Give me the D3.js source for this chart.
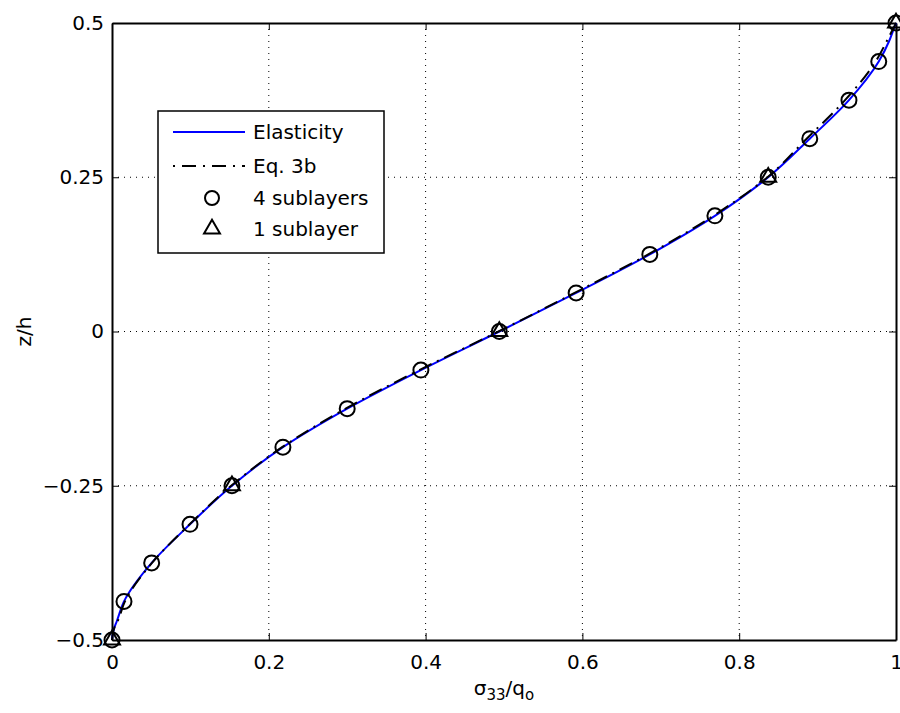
<!DOCTYPE html>
<html><head><meta charset="utf-8">
<script src="https://cdn.jsdelivr.net/npm/d3@7"></script>
<style>body{margin:0;background:#fff;} svg{display:block;}</style>
</head><body>
<svg id="chart" width="900" height="713"></svg>
<script>
// Data (x = sigma33/qo, z = z/h)
const elasticZ = [-0.5,-0.49,-0.48,-0.47,-0.4375,-0.375,-0.3125,-0.25,-0.1875,-0.125,-0.0625,0,0.0625,0.125,0.1875,0.25,0.3125,0.375,0.4375,0.47,0.49,0.5];
const elasticX = [0,0.001,0.003,0.006,0.0153,0.0506,0.0995,0.153,0.218,0.300,0.394,0.494,0.592,0.686,0.769,0.837,0.890,0.940,0.978,0.991,0.997,1];
const eq3bZ = [-0.5,-0.49,-0.48,-0.47,-0.4375,-0.375,-0.3125,-0.25,-0.1875,-0.125,-0.0625,0,0.0625,0.125,0.1875,0.25,0.3125,0.375,0.4375,0.47,0.49,0.5];
const eq3bX = [0,0.001,0.003,0.007,0.0165,0.0510,0.0990,0.152,0.217,0.298,0.392,0.493,0.590,0.684,0.767,0.836,0.886,0.935,0.974,0.988,0.996,1];
const circZ = [-0.5,-0.4375,-0.375,-0.3125,-0.25,-0.1875,-0.125,-0.0625,0,0.0625,0.125,0.1875,0.25,0.3125,0.375,0.4375,0.5];
const circX = [0,0.0153,0.0506,0.0995,0.153,0.218,0.300,0.394,0.494,0.592,0.686,0.769,0.837,0.890,0.940,0.978,1];
const triZ = [-0.5,-0.25,0,0.25,0.5];
const triX = [0,0.153,0.494,0.837,1];
const xTicks = [0,0.2,0.4,0.6,0.8,1];
const yTicks = [-0.5,-0.25,0,0.25,0.5];
const xTickLabels = ["0","0.2","0.4","0.6","0.8","1"];
const yTickLabels = ["\u22120.5","\u22120.25","0","0.25","0.5"];
const legendLabels = ["Elasticity","Eq. 3b","4 sublayers","1 sublayer"];

const svg = d3.select("#chart");
const L = 112, R = 896, T = 23, B = 640;
const x = d3.scaleLinear().domain([0,1]).range([L,R]);
const y = d3.scaleLinear().domain([-0.5,0.5]).range([B,T]);
const font = "'DejaVu Sans', Arial, sans-serif";

// grid
const grid = svg.append("g").attr("stroke","#000").attr("stroke-width",1).attr("stroke-dasharray","1,5");
xTicks.slice(1,-1).forEach(v=>grid.append("line").attr("x1",x(v)).attr("x2",x(v)).attr("y1",T).attr("y2",B));
yTicks.slice(1,-1).forEach(v=>grid.append("line").attr("y1",y(v)).attr("y2",y(v)).attr("x1",L).attr("x2",R));

// axes with inward ticks
const tl = 7;
const axB = svg.append("g").attr("transform",`translate(0,${B})`)
  .call(d3.axisBottom(x).tickValues(xTicks).tickSizeInner(-tl).tickSizeOuter(0).tickPadding(15).tickFormat((d,i)=>xTickLabels[i]));
const axT = svg.append("g").attr("transform",`translate(0,${T})`)
  .call(d3.axisTop(x).tickValues(xTicks).tickSizeInner(-tl).tickSizeOuter(0).tickFormat(""));
const axL = svg.append("g").attr("transform",`translate(${L},0)`)
  .call(d3.axisLeft(y).tickValues(yTicks).tickSizeInner(-tl).tickSizeOuter(0).tickPadding(8).tickFormat((d,i)=>yTickLabels[i]));
const axR = svg.append("g").attr("transform",`translate(${R},0)`)
  .call(d3.axisRight(y).tickValues(yTicks).tickSizeInner(-tl).tickSizeOuter(0).tickFormat(""));
[axB,axT,axL,axR].forEach(a=>{
  a.select(".domain").attr("stroke","#000").attr("stroke-width",2);
  a.selectAll(".tick line").attr("stroke","#000").attr("stroke-width",1);
  a.selectAll("text").attr("font-family",font).attr("font-size",20).attr("fill","#000");
});

// lines
const elasticData = elasticZ.map((z,i)=>({x:elasticX[i],z}));
const eqData = eq3bZ.map((z,i)=>({x:eq3bX[i],z}));
const line = d3.line().x(d=>x(d.x)).y(d=>y(d.z)).curve(d3.curveMonotoneY);
svg.append("path").datum(elasticData).attr("d",line).attr("fill","none").attr("stroke","#0000ff").attr("stroke-width",2);
svg.append("path").datum(eqData).attr("d",line).attr("fill","none").attr("stroke","#000").attr("stroke-width",2).attr("stroke-dasharray","14,6,2,6");

// markers
const circData = circZ.map((z,i)=>({x:circX[i],z}));
svg.append("g").selectAll("circle").data(circData).join("circle")
  .attr("cx",d=>x(d.x)).attr("cy",d=>y(d.z)).attr("r",7.5)
  .attr("fill","none").attr("stroke","#000").attr("stroke-width",2);
const triData = triZ.map((z,i)=>({x:triX[i],z}));
const tri = d3.symbol().type(d3.symbolTriangle).size(110);
svg.append("g").selectAll("path").data(triData).join("path")
  .attr("transform",d=>`translate(${x(d.x)},${y(d.z)})`).attr("d",tri)
  .attr("fill","none").attr("stroke","#000").attr("stroke-width",2);

// axis labels
svg.append("text").attr("transform",`translate(31,${(T+B)/2}) rotate(-90)`).attr("text-anchor","middle")
  .attr("font-family",font).attr("font-size",20).text("z/h");
const xl = svg.append("text").attr("x",(L+R)/2).attr("y",695).attr("text-anchor","middle")
  .attr("font-family",font).attr("font-size",20);
xl.append("tspan").text("\u03c3");
xl.append("tspan").attr("font-size",15).attr("dy",5).text("33");
xl.append("tspan").attr("dy",-5).text("/q");
xl.append("tspan").attr("font-size",15).attr("dy",5).text("o");

// legend
const lg = svg.append("g");
lg.append("rect").attr("x",158).attr("y",111).attr("width",226).attr("height",142)
  .attr("fill","#fff").attr("stroke","#000").attr("stroke-width",1.5);
const rowsY = [132,166,198,229];
lg.append("line").attr("x1",173).attr("x2",245).attr("y1",rowsY[0]).attr("y2",rowsY[0]).attr("stroke","#0000ff").attr("stroke-width",2);
lg.append("line").attr("x1",173).attr("x2",245).attr("y1",rowsY[1]).attr("y2",rowsY[1]).attr("stroke","#000").attr("stroke-width",2).attr("stroke-dasharray","2,7,14,7");
lg.append("circle").attr("cx",212).attr("cy",rowsY[2]).attr("r",7).attr("fill","none").attr("stroke","#000").attr("stroke-width",2);
lg.append("path").attr("transform",`translate(212,${rowsY[3]})`).attr("d",tri).attr("fill","none").attr("stroke","#000").attr("stroke-width",2);
legendLabels.forEach((t,i)=>lg.append("text").attr("x",253).attr("y",rowsY[i]+7).attr("font-family",font).attr("font-size",20).text(t));
</script>
</body></html>
